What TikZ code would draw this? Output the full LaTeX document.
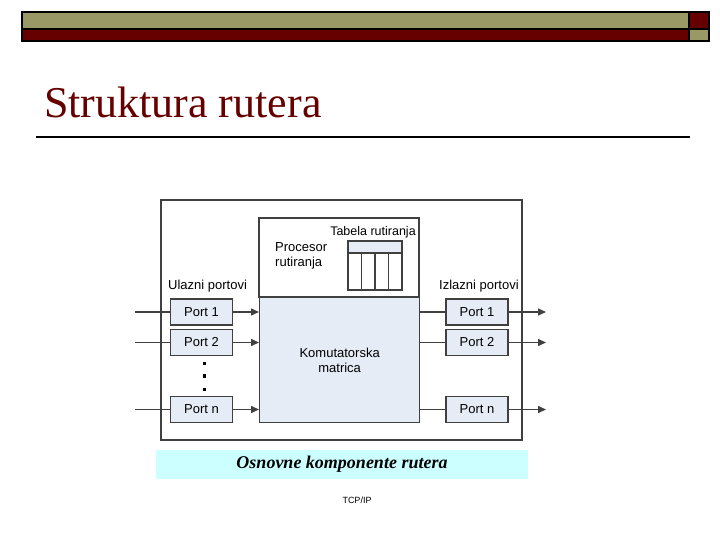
\documentclass[tikz,border=0pt]{standalone}
\usepackage{fontspec}
\setmainfont{Liberation Serif}
\setsansfont{Liberation Sans}
\usetikzlibrary{arrows.meta}
\definecolor{olive}{HTML}{999966}
\definecolor{maroon}{HTML}{660000}
\definecolor{portfill}{HTML}{E6ECF6}
\definecolor{boxline}{HTML}{404040}
\definecolor{capfill}{HTML}{CCFFFF}
\begin{document}
\begin{tikzpicture}[x=1pt,y=-1pt,
  portbox/.style={draw=boxline,fill=portfill,line width=1.3pt,minimum width=62pt,minimum height=26pt,inner sep=0pt,font=\sffamily\fontsize{13}{15}\selectfont},
  lbl/.style={font=\sffamily\fontsize{13}{15}\selectfont,inner sep=0pt},
  conn/.style={line width=1.5pt,boxline},
  arr/.style={conn,-{Triangle[length=8pt,width=7pt]}}]
\useasboundingbox (0,0) rectangle (720,540);
% top bar
\fill[olive] (22,12) rectangle (689,29);
\fill[maroon] (689,12) rectangle (709,29);
\fill[maroon] (22,29) rectangle (689,41);
\fill[olive] (689,29) rectangle (709,41);
\draw[line width=1.3pt] (22,12) rectangle (709,41);
\draw[line width=1.3pt] (22,29) -- (709,29);
\draw[line width=1.3pt] (689,12) -- (689,41);
% title
\node[anchor=base west,inner sep=0pt,text=maroon,font=\fontsize{44}{48}\selectfont] (title) at (44,118) {Struktura rutera};
\draw[line width=1.5pt] (36,137) -- (690,137);
% outer box
\draw[draw=boxline,line width=1.3pt] (161,200) rectangle (522,440);
% processor box
\draw[draw=boxline,line width=1.3pt,fill=white] (259,218) rectangle (419,297);
\node[lbl,anchor=base,font=\sffamily\fontsize{12.5}{15}\selectfont] (tab) at (373,236) {Tabela rutiranja};
\node[lbl,anchor=north west,align=left,font=\sffamily\fontsize{13}{15}\selectfont] (proc) at (275,242) {Procesor\\rutiranja};
% table
\fill[portfill] (348,241) rectangle (402,253);
\draw[draw=boxline,line width=1.2pt] (348,241) rectangle (402,290);
\draw[draw=boxline,line width=1.2pt] (348,253) -- (402,253);
\foreach \x in {361.5,375,388.5} \draw[draw=boxline,line width=1.2pt] (\x,253) -- (\x,290);
% matrix
\node[draw=boxline,fill=portfill,line width=1.3pt,minimum width=160pt,minimum height=125pt,inner sep=0pt,anchor=north west,align=center,font=\sffamily\fontsize{13}{15}\selectfont] (mat) at (259,297) {Komutatorska\\matrica};
% labels
\node[lbl,anchor=base west] (ul) at (168,289) {Ulazni portovi};
\node[lbl,anchor=base west] (iz) at (439,289) {Izlazni portovi};
% ports
\node[portbox] (i1) at (201.5,312) {Port 1};
\node[portbox] (i2) at (201.5,342.5) {Port 2};
\node[portbox] (in) at (201.5,409.5) {Port n};
\node[portbox] (o1) at (477,312) {Port 1};
\node[portbox] (o2) at (477,342.5) {Port 2};
\node[portbox] (on) at (477,409.5) {Port n};
% dots
\foreach \y in {363.5,376,389.5} \fill (202.8,\y-1.7) rectangle (205.8,\y+1.5);
% connectors
\foreach \p/\y in {i1/312,i2/342.5,in/409.5}{
  \coordinate (s\p) at (135,\y);
  \draw[conn] (s\p) -- (\p.west);
  \draw[arr] (\p.east) -- (\p.east -| mat.west);
}
\foreach \p/\y in {o1/312,o2/342.5,on/409.5}{
  \coordinate (e\p) at (546,\y);
  \draw[conn] (\p.west -| mat.east) -- (\p.west);
  \draw[arr] (\p.east) -- (e\p);
}
% caption
\node[fill=capfill,minimum width=372pt,minimum height=29pt,inner sep=0pt,font=\fontsize{18}{20}\selectfont\bfseries\itshape] (cap) at (342,464.5) {Osnovne komponente rutera};
\node[font=\sffamily\fontsize{9}{10}\selectfont,inner sep=0pt] (foot) at (357,500) {TCP/IP};
\end{tikzpicture}
\end{document}
